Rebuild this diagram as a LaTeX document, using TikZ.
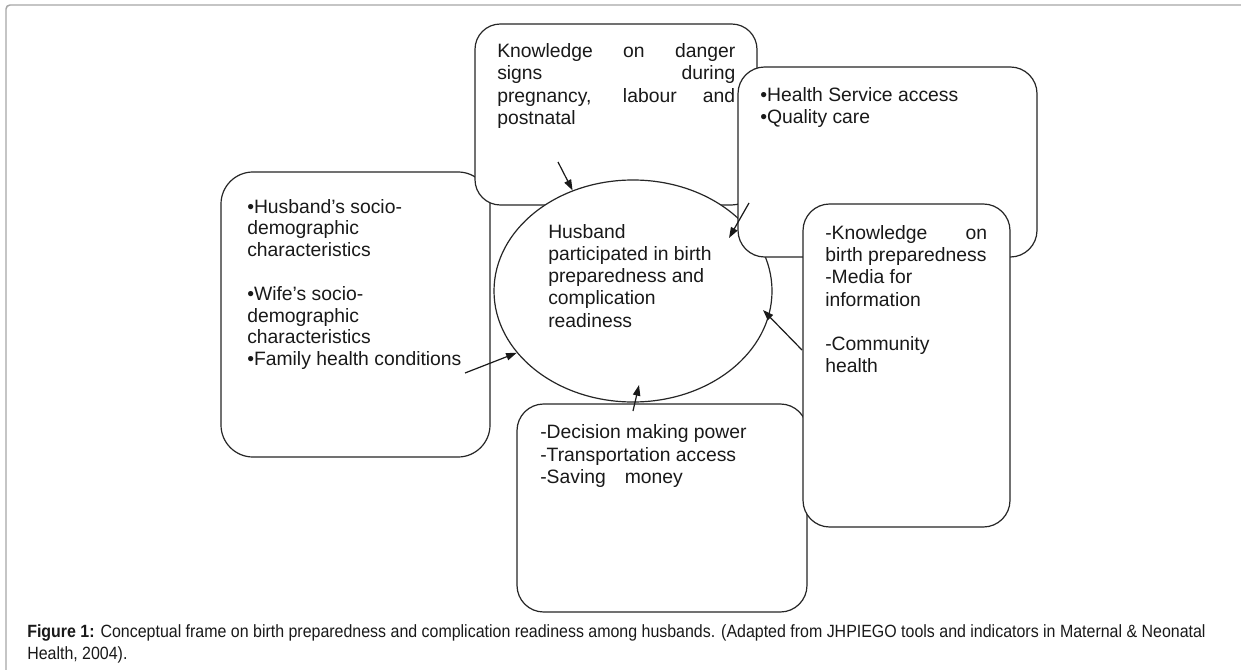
\documentclass[tikz,border=0pt]{standalone}
\usepackage{fontspec}
\setmainfont{Liberation Sans}
\newfontfamily\capfont[FakeStretch=0.9]{Liberation Sans}
\usetikzlibrary{shapes.geometric,arrows.meta}
\begin{document}
\begin{tikzpicture}[x=0.75pt,y=-0.75pt,
  frame/.style={draw=black!35, line width=1.1pt, rounded corners=3pt},
  box/.style={draw=black!85, line width=0.9pt, fill=white, inner sep=0pt, rounded corners=#1},
  oval/.style={draw=black!85, line width=0.9pt, fill=white, ellipse, inner sep=0pt},
  % text blocks are placed by the baseline of their last line
  txt/.style={anchor=base west, inner sep=0pt, align=left, text=black!90,
    font=\fontsize{14.5pt}{16.65pt}\selectfont},
  arr/.style={draw=black!90, line width=0.9pt, -{Triangle[length=8pt,width=5.5pt]}},
  captext/.style={anchor=base west, inner sep=0pt, align=left, text=black!90,
    font=\capfont\fontsize{13.3pt}{16pt}\selectfont}
]
\useasboundingbox (0,0) rectangle (1241,670);

% page frame (top and left edges)
\draw[frame] (6,670) -- (6,5) -- (1241,5);

% factor boxes, back to front
\node[box=24pt, minimum width=201.75pt, minimum height=213.75pt] (leftbox) at (355.5,314.5) {};
\node[txt, font=\fontsize{14.5pt}{16.35pt}\selectfont] (lefttext) at (247,365.7) {•Husband’s socio-\\ demographic\\ characteristics\\[16.35pt]
  •Wife’s socio-\\ demographic\\ characteristics\\ •Family health conditions};

\node[box=19pt, minimum width=211.5pt, minimum height=135.75pt] (topbox) at (616,114.5) {};
\node[txt] (toptext) at (497,124.3) {\makebox[178.5pt][s]{Knowledge on danger}\\
  \makebox[178.5pt][s]{signs during}\\
  \makebox[178.5pt][s]{pregnancy, labour and}\\ postnatal};

% central outcome
\node[oval, minimum width=208.5pt, minimum height=166.5pt] (ell) at (633,291) {};
\node[txt] (elltext) at (548,327) {Husband\\ participated in birth\\ preparedness and\\ complication\\ readiness};

\node[box=20pt, minimum width=224.25pt, minimum height=142.5pt] (healthbox) at (887.5,162) {};
\node[txt] (healthtext) at (760,123.3) {•Health Service access\\ •Quality care};

\node[box=20pt, minimum width=217.5pt, minimum height=156pt] (bottombox) at (662,508) {};
\node[txt] (bottomtext) at (540,483.3) {-Decision making power\\ -Transportation access\\ -Saving\hspace{14.25pt}money};

\node[box=20pt, minimum width=155.25pt, minimum height=242.25pt] (rightbox) at (906.5,365.5) {};
\node[txt] (righttext) at (825,372.7) {\makebox[121.5pt][s]{-Knowledge on}\\ birth preparedness\\ -Media for\\ information\\[16.65pt] -Community\\ health};

% arrow tails and inner tips
\coordinate (tailTop) at (558,162);
\coordinate (tailLeft) at (465,373);
\coordinate (tailHealth) at (749,203);
\coordinate (tipHealth) at (729,238);
\coordinate (tailRight) at (802,350);
\coordinate (tipRight) at (763,310);
\coordinate (tailBottom) at (633,411);
\coordinate (tipBottom) at (639,385);

\draw[arr] (tailTop) -- (ell.121);
\draw[arr] (tailLeft) -- (ell.208);
\draw[arr] (tailHealth) -- (tipHealth);
\draw[arr] (tailRight) -- (tipRight);
\draw[arr] (tailBottom) -- (tipBottom);

% caption
\node[captext] (caption) at (27,659) {\textbf{Figure 1:} Conceptual frame on birth preparedness and complication readiness among husbands. (Adapted from JHPIEGO tools and indicators in Maternal \& Neonatal\\ Health, 2004).};
\end{tikzpicture}
\end{document}
